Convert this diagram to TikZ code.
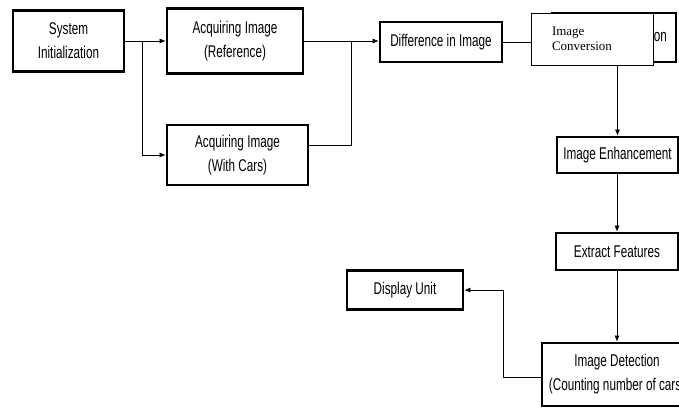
\documentclass[tikz,border=0pt]{standalone}
\usepackage{fontspec}
\setsansfont[FakeStretch=0.69]{Liberation Sans}
\setmainfont{Liberation Serif}
\usetikzlibrary{arrows.meta}
\tikzset{
stepbox/.style={
	  draw, line width=2.8pt, align=center, inner sep=2pt,
	    font=\sffamily\fontsize{17}{24}\selectfont},
plainbox/.style={
	  draw, line width=0.9pt, fill=white, align=left, inner sep=2pt,
	    font=\rmfamily\fontsize{13}{14.5}\selectfont},
link/.style={line width=0.6pt},
arr/.style={link, -{Latex[length=6pt,width=5pt]}}
}

\begin{document}
\begin{tikzpicture}[x=1pt, y=-1pt]
	\useasboundingbox (0,0) rectangle (679,407);
	\clip (0,0) rectangle (679,407);
	% blocks
	\node[stepbox, minimum width=111pt, minimum height=61pt] (sys) at (68.5,41) {System\\Initialization};
	\node[stepbox, minimum width=136pt, minimum height=65pt] (ref) at (235,41) {Acquiring Image\\(Reference)};
	\node[stepbox, minimum width=141pt, minimum height=60pt] (cars) at (237.5,155) {Acquiring Image\\(With Cars)};
	\node[stepbox, minimum width=122pt, minimum height=40pt] (diff) at (441,42) {Difference in Image};
	\node[stepbox, minimum width=124pt, minimum height=49pt, text width=106pt, align=right] (convback) at (614,37.5) {Image Conversion};
	\node[plainbox, minimum width=122pt, minimum height=52pt, text width=80pt] (conv) at (592,39) {Image\\Conversion};
	\node[stepbox, minimum width=121pt, minimum height=36pt] (enh) at (617.5,155) {Image Enhancement};
	\node[stepbox, minimum width=122pt, minimum height=37pt] (feat) at (617,251.5) {Extract Features};
	\node[stepbox, minimum width=150pt, minimum height=63pt] (det) at (617,374.5) {Image Detection\\(Counting number of cars)};
	\node[stepbox, minimum width=116pt, minimum height=39pt] (disp) at (405,290) {Display Unit};
	% connectors
	\coordinate (fork) at (142,41);
	\coordinate (join) at (351,41);
	\coordinate (turn) at (503,290);
	\draw[arr] (sys.east) -- (ref.west);
	\draw[arr] (fork) |- (cars.west);
	\draw[link] (ref.east) -- (join);
	\draw[link] ([yshift=10pt]cars.east) -| (join);
	\draw[arr] (join) -- (diff.west |- join);
	\draw[link] (diff.east) -- (diff.east -| conv.west);
	\draw[arr] (conv.south -| enh.north) -- (enh.north);
	\draw[arr] (enh.south -| feat.north) -- (feat.north);
	\draw[arr] (feat.south) -- (det.north);
	\draw[arr] ([yshift=-2.5pt]det.west) -| (turn) -- (disp.east);
\end{tikzpicture}
\end{document}
